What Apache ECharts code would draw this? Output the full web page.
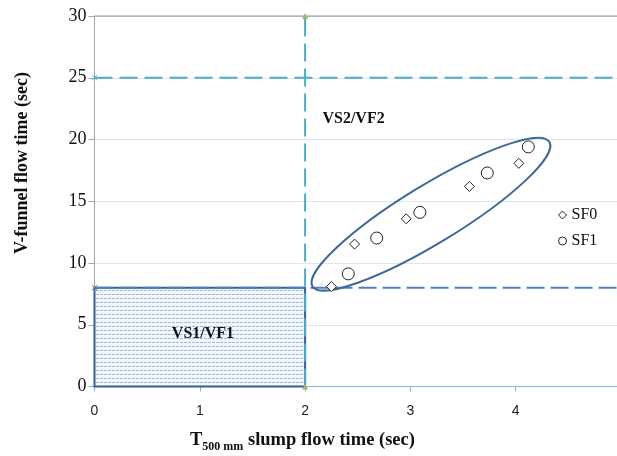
<!DOCTYPE html>
<html>
<head>
<meta charset="utf-8">
<script src="https://cdn.jsdelivr.net/npm/echarts@6/dist/echarts.min.js"></script>
<style>html,body{margin:0;padding:0;background:#fff}#c{width:617px;height:456px}</style>
</head>
<body>
<div id="c"></div>
<script>
// ---- data ----
const sf0 = [[2.25, 8.09], [2.47, 11.53], [2.96, 13.58], [3.56, 16.2], [4.03, 18.07]];
const sf1 = [[2.41, 9.12], [2.68, 12.02], [3.09, 14.1], [3.73, 17.29], [4.12, 19.4]];
const zoneVS1 = [[0, 0], [2, 8]];              // shaded box corners
const lineV8 = [[0, 8], [5, 8]];
const lineV25 = [[0, 25], [5, 25]];
const lineT2 = [[2, 0], [2, 30]];
const topLine = [[0, 30], [5, 30]];
const ellipseAxis = [[2.07, 8.1], [4.32, 19.8]]; // major-axis ends
const zoneLabels = [[1.03, 4.3, 'VS1/VF1'], [2.46, 21.7, 'VS2/VF2']];
const xTicks = [0, 1, 2, 3, 4];
const yTicks = [0, 5, 10, 15, 20, 25, 30];

const serif = '"Liberation Serif", "Times New Roman", serif';

// dotted fill pattern
const pc = document.createElement('canvas');
pc.width = 4; pc.height = 4;
const g = pc.getContext('2d');
g.fillStyle = '#f5f8fc'; g.fillRect(0, 0, 4, 4);
g.fillStyle = '#9dbbe2'; g.fillRect(0, 2, 3, 1);

const chart = echarts.init(document.getElementById('c'), null, {renderer: 'canvas'});
chart.setOption({
  animation: false,
  backgroundColor: '#fff',
  grid: {left: 94.5, top: 16, width: 526.5, height: 370.5, containLabel: false, outerBoundsMode: 'none'},
  xAxis: {
    type: 'value', min: 0, max: 5, interval: 1,
    axisLine: {show: true, onZero: false, lineStyle: {color: '#8db3e2', width: 1}},
    axisTick: {show: true, length: 5, lineStyle: {color: '#8db3e2'}},
    splitLine: {show: false},
    axisLabel: {
      margin: 18, fontFamily: '"Liberation Sans", Arial, sans-serif', fontSize: 14, color: '#222',
      formatter: v => xTicks.includes(v) ? String(v) : ''
    }
  },
  yAxis: {
    type: 'value', min: 0, max: 30, interval: 5,
    axisLine: {show: true, lineStyle: {color: '#a6a6a6', width: 1}},
    axisTick: {show: true, length: 6, lineStyle: {color: '#a6a6a6'}},
    splitLine: {show: true, lineStyle: {color: '#dce6f2', width: 1}},
    axisLabel: {
      margin: 8, fontFamily: serif, fontSize: 18, color: '#111',
      formatter: v => yTicks.includes(v) ? String(v) : ''
    }
  },
  legend: {
    data: ['SF0', 'SF1'], orient: 'vertical', left: 553, top: 202,
    itemWidth: 8, itemHeight: 8, itemGap: 10,
    itemStyle: {borderWidth: 1},
    textStyle: {fontFamily: serif, fontSize: 16, color: '#111'}
  },
  graphic: [
    {type: 'text', left: 190, top: 431, style: {
      text: '{b|T}{s|500 mm}{b| slump flow time (sec)}',
      rich: {
        b: {fontFamily: serif, fontSize: 18.5, fontWeight: 'bold', fill: '#111', verticalAlign: 'bottom'},
        s: {fontFamily: serif, fontSize: 12, fontWeight: 'bold', fill: '#111', verticalAlign: 'bottom', padding: [0, 0, -3, 0]}
      }
    }},
    {type: 'text', x: 22, y: 163, rotation: Math.PI / 2, style: {
      text: 'V-funnel flow time (sec)', fontFamily: serif, fontSize: 18, fontWeight: 'bold',
      fill: '#111', align: 'center', verticalAlign: 'middle'
    }}
  ],
  series: [
    {
      type: 'custom', name: 'zone', silent: true, z: 1,
      data: [zoneVS1[0].concat(zoneVS1[1])],
      renderItem: (params, api) => {
        const a = api.coord([api.value(0), api.value(1)]);
        const b = api.coord([api.value(2), api.value(3)]);
        return {
          type: 'rect',
          shape: {x: a[0], y: b[1], width: b[0] - a[0], height: a[1] - b[1]},
          style: {fill: {image: pc, repeat: 'repeat'}, stroke: '#3a5f8e', lineWidth: 2}
        };
      }
    },
    {
      type: 'line', name: 'top', data: topLine, silent: true, symbol: 'none', z: 2,
      lineStyle: {color: '#a6a6a6', width: 1.5}
    },
    {
      type: 'line', name: 'v8', data: lineV8, silent: true, z: 3,
      symbol: (v, p) => p.dataIndex === 0 ? 'path://M0,0L10,10M10,0L0,10' : 'none', symbolSize: 5,
      itemStyle: {color: '#8064a2', borderColor: '#8064a2'},
      lineStyle: {color: '#4f81bd', width: 2, type: [18, 6]}
    },
    {
      type: 'line', name: 'v25', data: lineV25, silent: true, z: 3,
      symbol: (v, p) => p.dataIndex === 0 ? 'path://M0,0L10,10M10,0L0,10' : 'none', symbolSize: 5,
      itemStyle: {color: '#4bacc6', borderColor: '#4bacc6'},
      lineStyle: {color: '#4bacc6', width: 2, type: [18, 7]}
    },
    {
      type: 'line', name: 't2', data: lineT2, silent: true, z: 3,
      symbol: 'triangle', symbolSize: 6,
      itemStyle: {color: '#9bbb59'},
      lineStyle: {color: '#4bacc6', width: 2, type: [18, 7]}
    },
    {
      type: 'custom', name: 'ellipse', silent: true, z: 4,
      data: [ellipseAxis[0].concat(ellipseAxis[1])],
      renderItem: (params, api) => {
        const p1 = api.coord([api.value(0), api.value(1)]);
        const p2 = api.coord([api.value(2), api.value(3)]);
        const cx = (p1[0] + p2[0]) / 2, cy = (p1[1] + p2[1]) / 2;
        const dx = p2[0] - p1[0], dy = p2[1] - p1[1];
        const rx = Math.sqrt(dx * dx + dy * dy) / 2;
        return {
          type: 'ellipse', x: cx, y: cy, rotation: Math.atan2(-dy, dx),
          shape: {cx: 0, cy: 0, rx: rx, ry: 29},
          style: {fill: 'none', stroke: '#3f6797', lineWidth: 2}
        };
      }
    },
    {
      type: 'custom', name: 'labels', silent: true, z: 5,
      data: zoneLabels,
      renderItem: (params, api) => {
        const p = api.coord([api.value(0), api.value(1)]);
        return {
          type: 'text', x: p[0], y: p[1],
          style: {text: zoneLabels[params.dataIndex][2], fontFamily: serif, fontSize: 16,
                  fontWeight: 'bold', fill: '#111', align: 'center', verticalAlign: 'middle'}
        };
      }
    },
    {
      type: 'scatter', name: 'SF0', data: sf0, symbol: 'diamond', symbolSize: 10, z: 6,
      itemStyle: {color: '#ffffff', borderColor: '#222', borderWidth: 1, opacity: 1}
    },
    {
      type: 'scatter', name: 'SF1', data: sf1, symbol: 'circle', symbolSize: 12, z: 6,
      itemStyle: {color: '#ffffff', borderColor: '#222', borderWidth: 1, opacity: 1}
    }
  ]
});
</script>
</body>
</html>
